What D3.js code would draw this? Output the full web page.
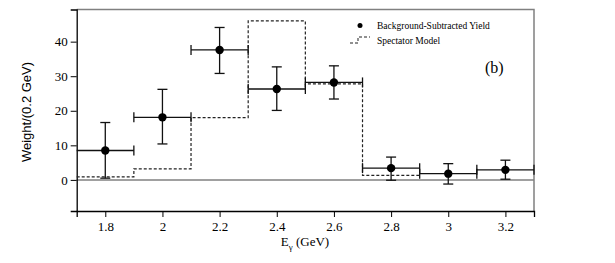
<!DOCTYPE html>
<html>
<head>
<meta charset="utf-8">
<script src="https://cdn.jsdelivr.net/npm/d3@7"></script>
<style>
  body { margin: 0; background: #fff; }
  text { font-family: "Liberation Serif", "DejaVu Serif", serif; }
</style>
</head>
<body>
<svg></svg>
<script>
// measured points (bin centres, weight, error bar low/high)
var energy = [1.8, 2.0, 2.2, 2.4, 2.6, 2.8, 3.0, 3.2]
var weight = [8.5, 18.1, 37.6, 26.3, 28.2, 3.4, 1.8, 2.9]
var errLow = [0.5, 10.4, 30.8, 20.1, 23.4, -0.1, -1.2, 0.2]
var errHigh = [16.6, 26.2, 44.1, 32.7, 33.0, 6.6, 4.7, 5.7]

// spectator model histogram: bin edges and heights
var modelEdges = [1.7, 1.9, 2.1, 2.3, 2.5, 2.7, 2.9, 3.1, 3.3]
var modelVals = [0.9, 3.2, 18.0, 46.0, 27.8, 1.3, 0, 0]

var xTicks = [1.8, 2, 2.2, 2.4, 2.6, 2.8, 3, 3.2]
var yTicks = [0, 10, 20, 30, 40]

var dimensions = {
    width: 615,
    height: 263,
    margin: { top: 9.5, right: 81, bottom: 52, left: 76.7 }
}
var W = dimensions.width - dimensions.margin.left - dimensions.margin.right
var H = dimensions.height - dimensions.margin.top - dimensions.margin.bottom

var svg = d3.select("svg").attr("width", dimensions.width).attr("height", dimensions.height)
var g = svg.append("g").attr("transform", "translate(" + dimensions.margin.left + "," + dimensions.margin.top + ")")

var x = d3.scaleLinear().domain([1.7, 3.3]).range([0, W])
var y = d3.scaleLinear().domain([-9, 49.3]).range([H, 0])

// frame top/right in gray
g.append("path")
    .attr("d", "M0,0H" + W + "V" + H)
    .attr("fill", "none").attr("stroke", "#808080").attr("stroke-width", 1.5)

// zero line
g.append("line")
    .attr("x1", 0).attr("x2", W).attr("y1", y(0)).attr("y2", y(0))
    .attr("stroke", "#808080").attr("stroke-width", 1.5)

// minor ticks
var xMinor = d3.range(1.7, 3.3001, 0.05)
var yMinor = d3.range(-8, 49, 2)

var xAxis = g.append("g").attr("transform", "translate(0," + H + ")")
xAxis.call(d3.axisBottom(x).tickValues(xMinor).tickSize(3).tickFormat(""))
xAxis.call(d3.axisBottom(x).tickValues(xTicks).tickSize(6).tickFormat(d3.format("")))
xAxis.selectAll("path.domain").attr("stroke", "#000").attr("stroke-width", 1.3)
xAxis.selectAll("text").attr("font-size", 13).attr("dy", "0.85em").attr("fill", "#000")
    .style("font-family", "'Liberation Serif', serif")

var yAxis = g.append("g")
yAxis.call(d3.axisLeft(y).tickValues(yMinor).tickSize(3).tickFormat(""))
yAxis.call(d3.axisLeft(y).tickValues(yTicks).tickSize(6).tickFormat(d3.format("")))
yAxis.selectAll("path.domain").attr("stroke", "#000").attr("stroke-width", 1.3)
yAxis.selectAll("text").attr("font-size", 13).attr("fill", "#000")
    .style("font-family", "'Liberation Serif', serif")
svg.selectAll(".tick line").attr("stroke", "#000")

// model histogram (dashed steps)
var steps = []
modelVals.forEach(function(v, i) {
    steps.push([modelEdges[i], v])
    steps.push([modelEdges[i + 1], v])
})
var lineGen = d3.line().x(d => x(d[0])).y(d => y(d[1]))
g.append("path")
    .attr("d", lineGen(steps.slice(0, 12)))
    .attr("fill", "none").attr("stroke", "#222").attr("stroke-width", 1.2)
    .attr("stroke-dasharray", "3,2")

// data points with error bars
var pts = g.append("g").selectAll(".pt")
    .data(energy.map((e, i) => ({ e: e, w: weight[i], lo: errLow[i], hi: errHigh[i] })))
    .enter().append("g").attr("class", "pt")
var ink = "#111"
pts.append("line")
    .attr("x1", d => x(d.e - 0.1)).attr("x2", d => x(d.e + 0.1))
    .attr("y1", d => y(d.w)).attr("y2", d => y(d.w))
    .attr("stroke", ink).attr("stroke-width", 1.3)
pts.append("line")
    .attr("x1", d => x(d.e + 0.1)).attr("x2", d => x(d.e + 0.1))
    .attr("y1", d => y(d.w) - 5).attr("y2", d => y(d.w) + 5)
    .attr("stroke", ink).attr("stroke-width", 1.3)
pts.filter(d => d.e > 1.8).append("line")
    .attr("x1", d => x(d.e - 0.1)).attr("x2", d => x(d.e - 0.1))
    .attr("y1", d => y(d.w) - 5).attr("y2", d => y(d.w) + 5)
    .attr("stroke", ink).attr("stroke-width", 1.3)
pts.append("line")
    .attr("x1", d => x(d.e)).attr("x2", d => x(d.e))
    .attr("y1", d => y(d.lo)).attr("y2", d => y(d.hi))
    .attr("stroke", ink).attr("stroke-width", 1.3)
pts.append("line")
    .attr("x1", d => x(d.e) - 5).attr("x2", d => x(d.e) + 5)
    .attr("y1", d => y(d.hi)).attr("y2", d => y(d.hi))
    .attr("stroke", ink).attr("stroke-width", 1.3)
pts.append("line")
    .attr("x1", d => x(d.e) - 5).attr("x2", d => x(d.e) + 5)
    .attr("y1", d => y(d.lo)).attr("y2", d => y(d.lo))
    .attr("stroke", ink).attr("stroke-width", 1.3)
pts.append("circle")
    .attr("cx", d => x(d.e)).attr("cy", d => y(d.w)).attr("r", 4.2)
    .attr("fill", "#000")

// legend
svg.append("circle").attr("cx", 360).attr("cy", 25.5).attr("r", 2.5).attr("fill", "#000")
svg.append("text").attr("x", 377).attr("y", 29).attr("font-size", 9.5).text("Background-Subtracted Yield")
svg.append("path").attr("d", "M350,43H358V37H370")
    .attr("fill", "none").attr("stroke", "#222").attr("stroke-dasharray", "3,2")
svg.append("text").attr("x", 377).attr("y", 44).attr("font-size", 9.5).text("Spectator Model")
svg.append("text").attr("x", 485).attr("y", 73).attr("font-size", 16).text("(b)")

// axis titles
svg.append("text")
    .attr("transform", "translate(31,112) rotate(-90)")
    .attr("text-anchor", "middle")
    .attr("font-size", 13)
    .style("font-family", "'Liberation Sans', sans-serif")
    .text("Weight/(0.2 GeV)")
var xt = svg.append("text").attr("x", 305).attr("y", 246).attr("text-anchor", "middle").attr("font-size", 13)
xt.append("tspan").text("E")
xt.append("tspan").attr("dy", 4).attr("font-size", 9).text("γ")
xt.append("tspan").attr("dy", -4).text("  (GeV)")
</script>
</body>
</html>
